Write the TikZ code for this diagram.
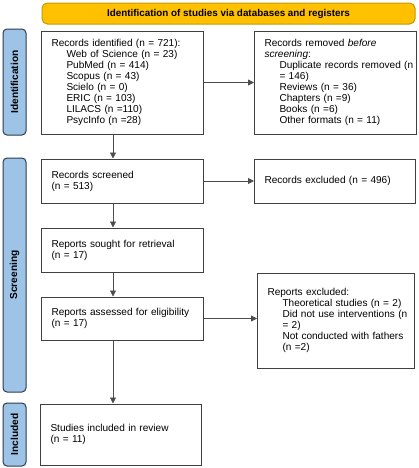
\documentclass[tikz,border=0pt]{standalone}
\usepackage{fontspec}
\setmainfont{Liberation Sans}
\usetikzlibrary{arrows.meta}
\definecolor{bannergold}{HTML}{FFC000}
\definecolor{bannerline}{HTML}{C49A00}
\definecolor{stageblue}{HTML}{9DC3E6}
\definecolor{stageline}{HTML}{2E3B4E}
\newcommand{\sub}[1]{\hspace*{11.25pt}\mbox{#1}}
\tikzset{
	box/.style={draw=black!75, line width=0.75pt, align=left, inner xsep=7.5pt, font=\fontsize{7.55}{8.25}\selectfont},
	stage/.style={draw=stageline, fill=stageblue, line width=0.75pt, rounded corners=3pt, rotate=90, minimum height=17.25pt, inner sep=0pt, font=\bfseries\fontsize{7.6}{8}\selectfont},
	banner/.style={draw=bannerline, fill=bannergold, line width=0.75pt, rounded corners=4pt, minimum width=279.75pt, minimum height=15.75pt, font=\bfseries\fontsize{7.4}{8}\selectfont},
	arr/.style={-{Triangle[length=4.5pt,width=4.5pt]}, draw=black!70, line width=0.6pt},
}

\begin{document}
\begin{tikzpicture}[x=0.75pt, y=-0.75pt]
		%%%%% START %%%%%
		\useasboundingbox (0, 0) rectangle (418, 468);
		
		\node[banner] (head) at (228.5, 13.5) {Identification of studies via databases and registers};
		
		\node[stage, minimum width=79.5pt] (identification) at (14.5, 82) {Identification};
		\node[stage, minimum width=175.5pt] (screening) at (14.5, 275) {Screening};
		\node[stage, minimum width=47.25pt] (included) at (14.5, 434.5) {Included};
		
		\node[box, text width=106.5pt, minimum height=77.25pt] (ident) at (122.5, 82.5) {Records identified (n = 721):\\
			\sub{Web of Science (n = 23)}\\
			\sub{PubMed (n = 414)}\\
			\sub{Scopus (n = 43)}\\
			\sub{Scielo (n = 0)}\\
			\sub{ERIC (n = 103)}\\
			\sub{LILACS (n =110)}\\
			\sub{PsycInfo (n =28)}};
		\node[box, text width=106.5pt, minimum height=77.25pt] (removed) at (335.5, 82.5) {Records removed \textit{before}\\
			\textit{screening}:\\
			\sub{Duplicate records removed (n}\\
			\sub{= 146)}\\
			\sub{Reviews (n = 36)}\\
			\sub{Chapters (n =9)}\\
			\sub{Books (n =6)}\\
			\sub{Other formats (n = 11)}};
		
		\node[box, text width=106.5pt, minimum height=33pt] (screened) at (122.5, 181) {Records screened\\(n = 513)};
		\node[box, text width=105.75pt, minimum height=33pt] (recexcl) at (335, 181) {Records excluded (n = 496)};
		
		\node[box, text width=106.5pt, minimum height=33pt] (sought) at (122.5, 250) {Reports sought for retrieval\\(n = 17)};
		\node[box, text width=106.5pt, minimum height=32.25pt] (assessed) at (122.5, 318.5) {Reports assessed for eligibility\\(n = 17)};
		\node[box, text width=102.75pt, minimum height=71.25pt] (repexcl) at (336, 320.5) {Reports excluded:\\
			\sub{Theoretical studies (n = 2)}\\
			\sub{Did not use interventions (n}\\
			\sub{= 2)}\\
			\sub{Not conducted with fathers}\\
			\sub{(n =2)}};
		
		\node[box, text width=105.75pt, minimum height=45.75pt] (studies) at (121, 434.5) {Studies included in review\\(n = 11)};
		
		% arrows
		\coordinate (spine) at (113, 0);
		\draw[arr] (ident.east) -- (ident.east -| removed.west);
		\draw[arr] (screened.east) -- (screened.east -| recexcl.west);
		\draw[arr] (assessed.east) -- (assessed.east -| repexcl.west);
		\draw[arr] (ident.south -| spine) -- (screened.north -| spine);
		\draw[arr] (screened.south -| spine) -- (sought.north -| spine);
		\draw[arr] (sought.south -| spine) -- (assessed.north -| spine);
		\draw[arr] (assessed.south -| spine) -- (studies.north -| spine);
		
		%%%%% END %%%%%
	\end{tikzpicture}
\end{document}
